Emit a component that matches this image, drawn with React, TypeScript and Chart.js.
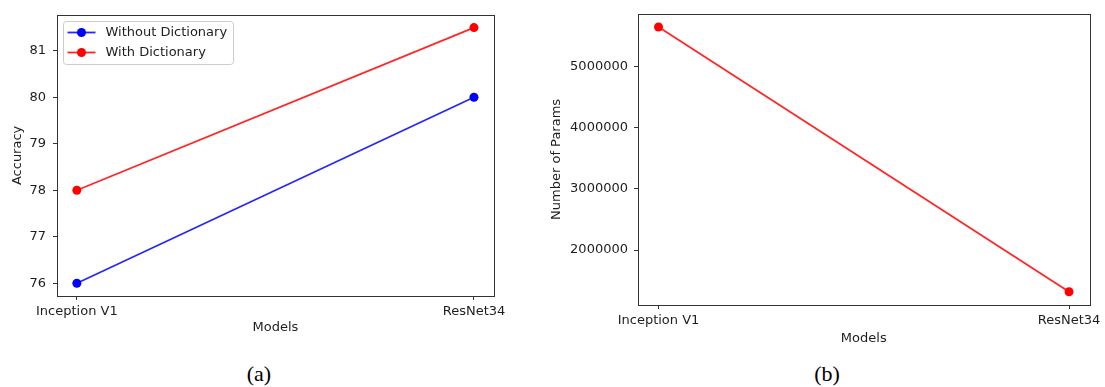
import React, { useEffect, useRef } from 'react';
import { Chart, registerables } from 'chart.js';

Chart.register(...registerables);

// ---- data ----
const categories = ['Inception V1', 'ResNet34'];
const accuracyWithout = [76, 80];
const accuracyWith = [78, 81.5];
const paramCounts = [5640000, 1320000];
const accuracyTicks = [76, 77, 78, 79, 80, 81];
const paramTicks = [2000000, 3000000, 4000000, 5000000];
const seriesNames = ['Without Dictionary', 'With Dictionary'];
const captions = ['(a)', '(b)'];

const FONT_FAMILY = "'DejaVu Sans', 'Liberation Sans', sans-serif";
const TEXT = '#1e1e1e';
const AXIS = '#333333';

function padded(values: number[], frac = 0.05): [number, number] {
  const lo = Math.min(...values);
  const hi = Math.max(...values);
  const r = hi - lo;
  return [lo - r * frac, hi + r * frac];
}

const framePlugin = {
  id: 'mplFrame',
  afterDatasetsDraw(chart: any) {
    const { ctx, chartArea } = chart;
    ctx.save();
    ctx.strokeStyle = AXIS;
    ctx.lineWidth = 1;
    ctx.strokeRect(
      Math.round(chartArea.left) + 0.5,
      Math.round(chartArea.top) + 0.5,
      Math.round(chartArea.right - chartArea.left),
      Math.round(chartArea.bottom - chartArea.top)
    );
    ctx.restore();
  },
};

const legendPlugin = {
  id: 'mplLegend',
  afterDatasetsDraw(chart: any, _args: any, opts: any) {
    if (!opts || !opts.display) return;
    const { ctx, chartArea } = chart;
    const datasets = chart.data.datasets;
    ctx.save();
    ctx.font = `13px ${FONT_FAMILY}`;
    let maxW = 0;
    datasets.forEach((d: any) => {
      maxW = Math.max(maxW, ctx.measureText(d.label).width);
    });
    const x0 = Math.round(chartArea.left) + 6.5;
    const y0 = Math.round(chartArea.top) + 6.5;
    const w = Math.round(42 + maxW + 6);
    const rowH = 20;
    const h = 11 + rowH * (datasets.length - 1) + 12;
    ctx.beginPath();
    (ctx as any).roundRect(x0, y0, w, h, 3);
    ctx.fillStyle = 'rgba(255,255,255,0.8)';
    ctx.fill();
    ctx.strokeStyle = '#cccccc';
    ctx.lineWidth = 1;
    ctx.stroke();
    datasets.forEach((d: any, i: number) => {
      const cy = y0 + 11 + i * rowH;
      ctx.beginPath();
      ctx.moveTo(x0 + 4, cy);
      ctx.lineTo(x0 + 32, cy);
      ctx.strokeStyle = d.borderColor;
      ctx.lineWidth = d.borderWidth;
      ctx.stroke();
      ctx.beginPath();
      ctx.arc(x0 + 18, cy, d.pointRadius, 0, Math.PI * 2);
      ctx.fillStyle = d.pointBackgroundColor;
      ctx.fill();
      ctx.fillStyle = TEXT;
      ctx.textBaseline = 'middle';
      ctx.textAlign = 'left';
      ctx.fillText(d.label, x0 + 42, cy + 0.5);
    });
    ctx.restore();
  },
};

function axisCommon(extra: any) {
  const font = { family: FONT_FAMILY, size: 13 };
  return {
    type: 'linear',
    grid: { drawOnChartArea: false, drawTicks: true, tickLength: 4, color: AXIS, lineWidth: 1 },
    border: { display: false },
    ...extra,
    ticks: { font, color: TEXT, autoSkip: false, maxRotation: 0, ...(extra.ticks || {}) },
    title: { display: true, font, color: TEXT, ...(extra.title || {}) },
  };
}

function makeSeries(label: string, values: number[], color: string, lineColor: string) {
  return {
    label,
    data: values.map((v, i) => ({ x: i, y: v })),
    borderColor: lineColor,
    backgroundColor: color,
    pointBackgroundColor: color,
    pointBorderColor: color,
    pointBorderWidth: 0,
    pointRadius: 4.5,
    borderWidth: 1.8,
    tension: 0,
    fill: false,
  };
}

function useChart(ref: React.RefObject<HTMLCanvasElement>, build: () => any) {
  useEffect(() => {
    if (!ref.current) return;
    const chart = new Chart(ref.current, build());
    return () => chart.destroy();
  }, []);
}

export default function App() {
  const leftRef = useRef<HTMLCanvasElement>(null);
  const rightRef = useRef<HTMLCanvasElement>(null);

  useChart(leftRef, () => {
    const [ymin, ymax] = padded([...accuracyWithout, ...accuracyWith]);
    return {
      type: 'line',
      data: {
        datasets: [
          makeSeries(seriesNames[0], accuracyWithout, '#0000ff', 'rgba(0,0,255,0.85)'),
          makeSeries(seriesNames[1], accuracyWith, '#ff0000', 'rgba(255,0,0,0.85)'),
        ],
      },
      options: {
        responsive: false,
        animation: false,
        layout: { padding: { left: 0, top: 11, right: 16, bottom: 0 } },
        scales: {
          x: axisCommon({
            min: -0.05,
            max: 1.05,
            afterBuildTicks: (s: any) => {
              s.ticks = categories.map((_, i) => ({ value: i }));
            },
            afterFit: (s: any) => {
              s.height = 49;
            },
            ticks: { padding: 4, callback: (v: any) => categories[v] },
            title: { text: 'Models', padding: { top: 0, bottom: 10 } },
          }),
          y: axisCommon({
            min: ymin,
            max: ymax,
            afterBuildTicks: (s: any) => {
              s.ticks = accuracyTicks.map((v) => ({ value: v }));
            },
            afterFit: (s: any) => {
              s.width = 57;
            },
            ticks: { padding: 7, callback: (v: any) => String(v) },
            title: { text: 'Accuracy', padding: { top: 10, bottom: 0 } },
          }),
        },
        plugins: {
          legend: { display: false },
          tooltip: { enabled: false },
          mplLegend: { display: true },
        },
      },
      plugins: [framePlugin, legendPlugin],
    };
  });

  useChart(rightRef, () => {
    const [ymin, ymax] = padded(paramCounts);
    return {
      type: 'line',
      data: {
        datasets: [makeSeries('Number of Params', paramCounts, '#ff0000', 'rgba(255,0,0,0.85)')],
      },
      options: {
        responsive: false,
        animation: false,
        layout: { padding: { left: 0, top: 11, right: 15, bottom: 0 } },
        scales: {
          x: axisCommon({
            min: -0.05,
            max: 1.05,
            afterBuildTicks: (s: any) => {
              s.ticks = categories.map((_, i) => ({ value: i }));
            },
            afterFit: (s: any) => {
              s.height = 45;
            },
            ticks: { padding: 4, callback: (v: any) => categories[v] },
            title: { text: 'Models', padding: { top: 0, bottom: 4 } },
          }),
          y: axisCommon({
            min: ymin,
            max: ymax,
            afterBuildTicks: (s: any) => {
              s.ticks = paramTicks.map((v) => ({ value: v }));
            },
            afterFit: (s: any) => {
              s.width = 108;
            },
            ticks: { padding: 6, callback: (v: any) => String(v) },
            title: { text: 'Number of Params', padding: { top: 19, bottom: 0 } },
          }),
        },
        plugins: {
          legend: { display: false },
          tooltip: { enabled: false },
        },
      },
      plugins: [framePlugin],
    };
  });

  const captionStyle = (cx: number): React.CSSProperties => ({
    position: 'absolute',
    left: cx - 50,
    top: 363,
    width: 100,
    textAlign: 'center',
    fontFamily: "'Liberation Serif', 'Times New Roman', serif",
    fontSize: 22,
    lineHeight: '22px',
    color: '#000',
  });

  return (
    <div
      style={{
        position: 'absolute',
        left: 0,
        top: 0,
        width: 1105,
        height: 387,
        background: '#fff',
        overflow: 'hidden',
      }}
    >
      <canvas
        ref={leftRef}
        width={510}
        height={345}
        style={{ position: 'absolute', left: 0, top: 0, width: 510, height: 345 }}
      />
      <canvas
        ref={rightRef}
        width={575}
        height={350}
        style={{ position: 'absolute', left: 530, top: 0, width: 575, height: 350 }}
      />
      <div style={captionStyle(259)}>{captions[0]}</div>
      <div style={captionStyle(827)}>{captions[1]}</div>
    </div>
  );
}
